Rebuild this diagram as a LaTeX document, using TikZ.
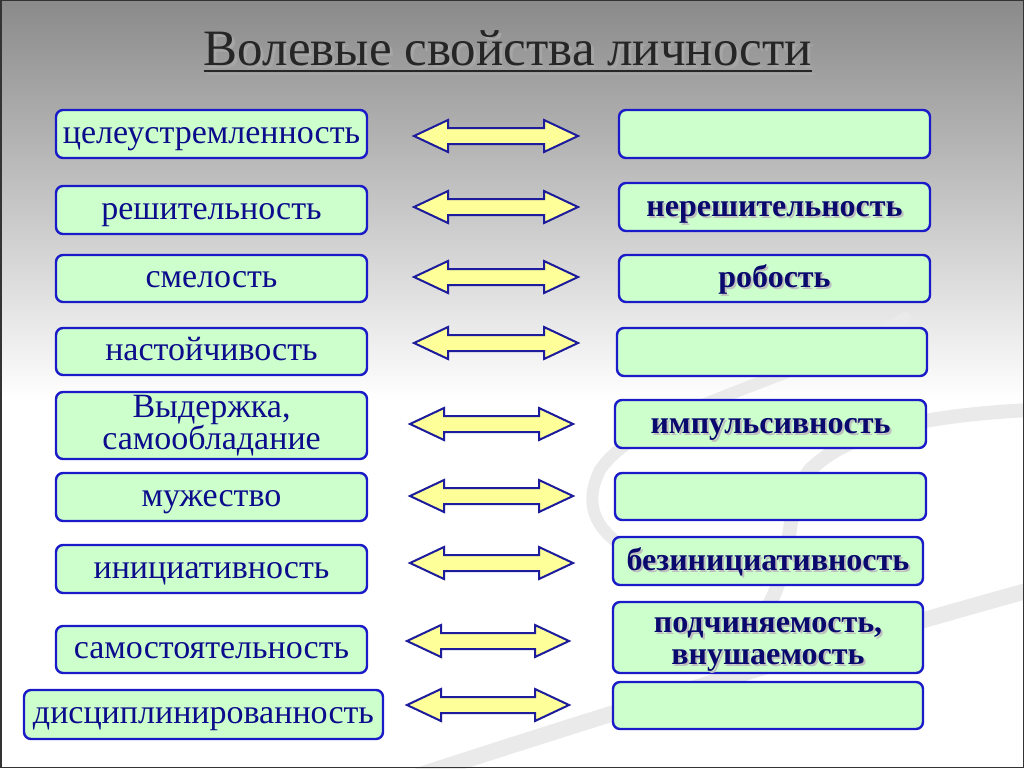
\documentclass[tikz,border=0pt]{standalone}
\usepackage{fontspec}
\setmainfont{Liberation Serif}
\definecolor{boxfill}{HTML}{CCFFCC}
\definecolor{boxdraw}{HTML}{1A1AC8}
\definecolor{ltxt}{HTML}{0C0C8C}
\definecolor{rtxt}{HTML}{0A0A6E}
\definecolor{arrfill}{HTML}{FFFF99}
\definecolor{arrdraw}{HTML}{1C1C9C}
\definecolor{topgray}{HTML}{8A8A8A}
\definecolor{swoosh}{HTML}{EAEAEA}
\newcommand{\shtxt}[1]{\makebox[0pt][l]{\raisebox{-2pt}{\hspace{2pt}\textcolor{black!25}{#1}}}#1}
\newcommand{\ttlshadow}[1]{\makebox[0pt][l]{\raisebox{-3pt}{\hspace{3pt}\textcolor{black!35}{#1}}}#1}
\tikzset{
  lbox/.style={draw=boxdraw, line width=2.4pt, fill=boxfill, rounded corners=7pt,
    inner sep=0pt, text=ltxt, font=\fontsize{34}{32}\selectfont, align=center,
    text height=24pt, text depth=6pt},
  rbox/.style={draw=boxdraw, line width=2.4pt, fill=boxfill, rounded corners=7pt,
    inner sep=0pt, text=rtxt, font=\fontsize{32}{32}\bfseries\selectfont, align=center,
    text height=24pt, text depth=6pt},
  dblarr/.style={draw=arrdraw, line width=2pt, fill=arrfill, line join=miter},
}
% double block arrow: #1 name, #2 left x, #3 right x, #4 centre y
\newcommand{\dblarrow}[4]{%
  \coordinate (#1) at ({(#2+#3)/2},#4);
  \draw[dblarr] (#2,#4) -- ({#2+34},{#4-16}) -- ({#2+34},{#4-8}) -- ({#3-34},{#4-8})
    -- ({#3-34},{#4-16}) -- (#3,#4) -- ({#3-34},{#4+16}) -- ({#3-34},{#4+8})
    -- ({#2+34},{#4+8}) -- ({#2+34},{#4+16}) -- cycle;}
\begin{document}
\begin{tikzpicture}[x=1pt,y=-1pt]
\useasboundingbox (0,0) rectangle (1024,768);
% background
\fill[white] (0,0) rectangle (1024,768);
\shade[top color=topgray, bottom color=white] (0,0) rectangle (1024,400);
% swoosh decoration
\begin{scope}[swoosh, line cap=round]
\draw[line width=12pt] (905,318) .. controls (800,380) and (640,410) .. (600,470)
  .. controls (580,510) and (600,540) .. (650,560);
\draw[line width=14pt] (1030,410) .. controls (930,415) and (850,430) .. (810,470)
  .. controls (780,510) and (800,560) .. (760,620);
\draw[line width=16pt] (1030,590) .. controls (850,640) and (650,700) .. (420,775);
\end{scope}
% title
\node[font=\fontsize{51}{53}\selectfont, text=black!85, inner sep=0pt] (title) at (508,50) {\ttlshadow{Волевые свойства личности}};
\draw[black!35, line width=2.5pt] ([xshift=3pt]title.south west |- 0,74) -- ([xshift=3pt]title.south east |- 0,74);
\draw[black!85, line width=2.5pt] (title.south west |- 0,71) -- (title.south east |- 0,71);
% left boxes
\node[lbox, minimum width=311pt, minimum height=48pt] (l1) at (211.5,134) {целеустремленность};
\node[lbox, minimum width=311pt, minimum height=48pt] (l2) at (211.5,210) {решительность};
\node[lbox, minimum width=311pt, minimum height=47pt] (l3) at (211.5,278.5) {смелость};
\node[lbox, minimum width=311pt, minimum height=47pt] (l4) at (211.5,351.5) {настойчивость};
\node[lbox, minimum width=311pt, minimum height=67pt, text height=56pt, text depth=9pt] (l5) at (211.5,425.5) {Выдержка,\\самообладание};
\node[lbox, minimum width=311pt, minimum height=48pt] (l6) at (211.5,497) {мужество};
\node[lbox, minimum width=311pt, minimum height=48pt] (l7) at (211.5,569) {инициативность};
\node[lbox, minimum width=311pt, minimum height=47pt] (l8) at (211.5,649.5) {самостоятельность};
\node[lbox, minimum width=359pt, minimum height=49pt] (l9) at (203.5,714.5) {дисциплинированность};
% right boxes
\node[rbox, minimum width=311pt, minimum height=48pt] (r1) at (774.5,134) {};
\node[rbox, minimum width=311pt, minimum height=48pt] (r2) at (774.5,207) {\shtxt{нерешительность}};
\node[rbox, minimum width=311pt, minimum height=47pt] (r3) at (774.5,278.5) {\shtxt{робость}};
\node[rbox, minimum width=310pt, minimum height=48pt] (r4) at (772,352) {};
\node[rbox, minimum width=311pt, minimum height=48pt] (r5) at (770.5,424) {\shtxt{импульсивность}};
\node[rbox, minimum width=311pt, minimum height=47pt] (r6) at (770.5,496.5) {};
\node[rbox, minimum width=310pt, minimum height=48pt] (r7) at (768,561) {\shtxt{безинициативность}};
\node[rbox, minimum width=310pt, minimum height=71pt, text height=56pt, text depth=3pt] (r8) at (768,637.5) {\shtxt{подчиняемость,}\\\shtxt{внушаемость}};
\node[rbox, minimum width=310pt, minimum height=47pt] (r9) at (768,705.5) {};
% arrows
\dblarrow{a1}{414}{578}{136}
\dblarrow{a2}{414}{578}{207}
\dblarrow{a3}{414}{578}{277}
\dblarrow{a4}{414}{578}{343}
\dblarrow{a5}{410}{573}{424}
\dblarrow{a6}{410}{573}{496}
\dblarrow{a7}{410}{573}{563}
\dblarrow{a8}{407}{569}{641}
\dblarrow{a9}{407}{569}{705}
% frame
\draw[black!80, line width=1.5pt] (0.75,0.75) rectangle (1023.25,767.25);
\end{tikzpicture}
\end{document}
